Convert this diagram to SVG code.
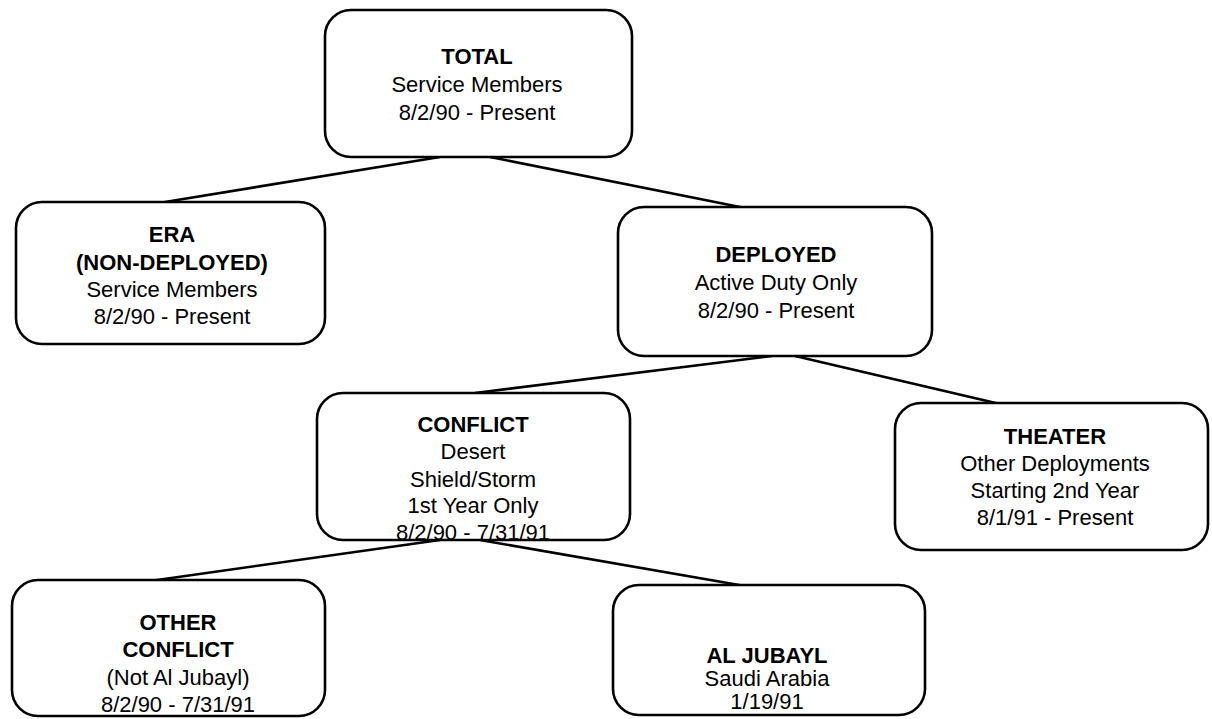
<svg xmlns="http://www.w3.org/2000/svg" width="1212" height="719" viewBox="0 0 1212 719">
<style>
.box{fill:#fff;stroke:#000;stroke-width:2.6}
.t{font-family:"Liberation Sans",Arial,sans-serif;font-size:22px;text-anchor:middle;fill:#000}
.b{font-weight:bold}
.c line{stroke:#000;stroke-width:2.6}
</style>
<rect width="1212" height="719" fill="#fff"/>
<g class="c" id="connectors">
<line x1="440" y1="157" x2="165" y2="202"/>
<line x1="490" y1="157" x2="745" y2="208"/>
<line x1="772" y1="356" x2="475" y2="393"/>
<line x1="795" y1="356" x2="1000" y2="404"/>
<line x1="440" y1="540" x2="150" y2="581"/>
<line x1="480" y1="540" x2="745" y2="586"/>
</g>
<g id="total">
<rect class="box" x="325" y="10" width="307" height="147" rx="26"/>
<text class="t b" x="477" y="64">TOTAL</text>
<text class="t" x="477" y="92">Service Members</text>
<text class="t" x="477" y="120">8/2/90 - Present</text>
</g>
<g id="era">
<rect class="box" x="16" y="202" width="309" height="142" rx="26"/>
<text class="t b" x="172" y="242">ERA</text>
<text class="t b" x="172" y="270">(NON-DEPLOYED)</text>
<text class="t" x="172" y="297">Service Members</text>
<text class="t" x="172" y="324">8/2/90 - Present</text>
</g>
<g id="deployed">
<rect class="box" x="618" y="207" width="314" height="149" rx="26"/>
<text class="t b" x="776" y="262">DEPLOYED</text>
<text class="t" x="776" y="290">Active Duty Only</text>
<text class="t" x="776" y="318">8/2/90 - Present</text>
</g>
<g id="conflict">
<rect class="box" x="317" y="393" width="313" height="147" rx="26"/>
<text class="t b" x="473" y="432">CONFLICT</text>
<text class="t" x="473" y="459">Desert</text>
<text class="t" x="473" y="487">Shield/Storm</text>
<text class="t" x="473" y="513">1st Year Only</text>
<text class="t" x="473" y="540">8/2/90 - 7/31/91</text>
</g>
<g id="theater">
<rect class="box" x="895" y="403" width="313" height="147" rx="26"/>
<text class="t b" x="1055" y="444">THEATER</text>
<text class="t" x="1055" y="471">Other Deployments</text>
<text class="t" x="1055" y="498">Starting 2nd Year</text>
<text class="t" x="1055" y="525">8/1/91 - Present</text>
</g>
<g id="other-conflict">
<rect class="box" x="12" y="580" width="313" height="136" rx="26"/>
<text class="t b" x="178" y="630">OTHER</text>
<text class="t b" x="178" y="657">CONFLICT</text>
<text class="t" x="178" y="685">(Not Al Jubayl)</text>
<text class="t" x="178" y="712">8/2/90 - 7/31/91</text>
</g>
<g id="al-jubayl">
<rect class="box" x="613" y="585" width="312" height="130" rx="26"/>
<text class="t b" x="767" y="663">AL JUBAYL</text>
<text class="t" x="767" y="686">Saudi Arabia</text>
<text class="t" x="767" y="709">1/19/91</text>
</g>
</svg>
